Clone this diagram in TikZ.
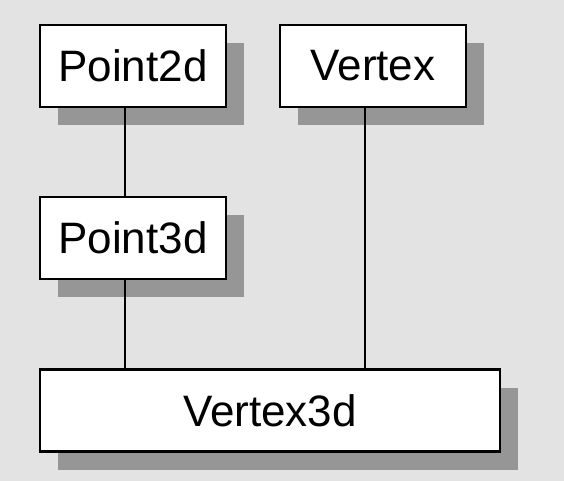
\documentclass[tikz,border=0pt]{standalone}
\usepackage{fontspec}
\setmainfont{Liberation Sans}
\usepackage{tikz}
\usetikzlibrary{shadows}
\usetikzlibrary{positioning}

\definecolor{bggray}{gray}{0.89}
\definecolor{shadowgray}{gray}{0.59}

\tikzset{
	classbox/.style={draw=black, line width=2.5pt, fill=white,
		minimum width=186pt, minimum height=82pt, inner sep=0pt,
		font=\fontsize{44}{50}\selectfont,
		drop shadow={shadow xshift=18pt, shadow yshift=-18pt, fill=shadowgray, opacity=1}},
	link/.style={line width=2pt}
}

\begin{document}
\begin{tikzpicture}[x=1pt, y=-1pt, line cap=butt, line join=miter]
			
			% Background
			\fill[bggray] (0,0) rectangle (564,481);
			\useasboundingbox (0,0) rectangle (564,481);
			
			% Classes
			\node[classbox] (point2d) at (133,66) {Point2d};
			\node[classbox] (vertex) at (373,66) {Vertex};
			\node[classbox] (point3d) at (133,238) {Point3d};
			\node[classbox, minimum width=460pt] (vertex3d) at (270,410.5) {Vertex3d};
			
			% Attach points (a bit left of centre)
			\coordinate (ptfoot) at ([xshift=-8pt]point2d.south);
			\coordinate (p3foot) at ([xshift=-8pt]point3d.south);
			\coordinate (vxfoot) at ([xshift=-8pt]vertex.south);
			
			% Links
			\draw[link] (ptfoot) -- (ptfoot |- point3d.north);
			\draw[link] (p3foot) -- (p3foot |- vertex3d.north);
			\draw[link] (vxfoot) -- (vxfoot |- vertex3d.north);
			
		\end{tikzpicture}
\end{document}
